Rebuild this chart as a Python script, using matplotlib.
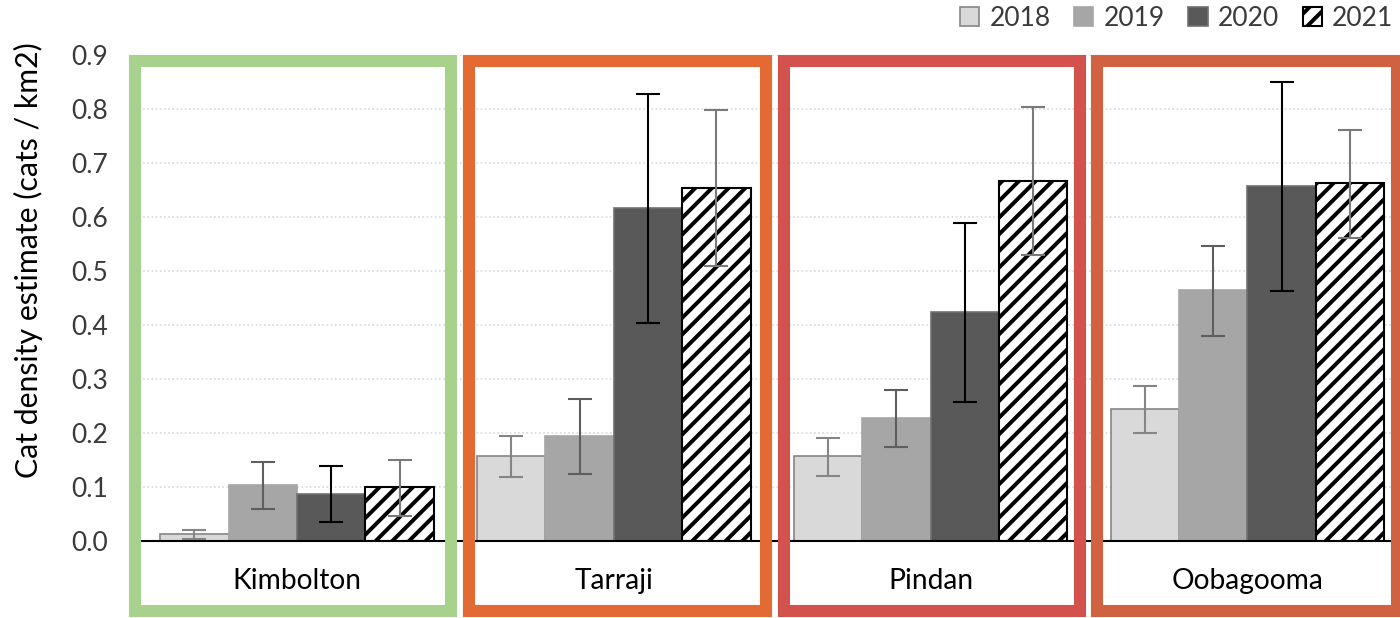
import matplotlib
matplotlib.use("Agg")
import matplotlib.pyplot as plt
import matplotlib.transforms as mtransforms
from matplotlib.patches import Rectangle
import numpy as np

# ---- data -------------------------------------------------------------
sites = ["Kimbolton", "Tarraji", "Pindan", "Oobagooma"]
years = ["2018", "2019", "2020", "2021"]

# density estimates (cats / km2), one list per year, ordered as sites
density = {
    "2018": [0.012, 0.157, 0.156, 0.244],
    "2019": [0.103, 0.194, 0.227, 0.464],
    "2020": [0.087, 0.617, 0.424, 0.656],
    "2021": [0.099, 0.654, 0.667, 0.662],
}
# confidence interval bounds
lower = {
    "2018": [0.003, 0.118, 0.120, 0.200],
    "2019": [0.059, 0.123, 0.174, 0.380],
    "2020": [0.035, 0.404, 0.257, 0.463],
    "2021": [0.046, 0.508, 0.530, 0.561],
}
upper = {
    "2018": [0.020, 0.194, 0.190, 0.287],
    "2019": [0.145, 0.262, 0.279, 0.546],
    "2020": [0.138, 0.828, 0.589, 0.849],
    "2021": [0.150, 0.798, 0.804, 0.761],
}

y_ticks = [0.0, 0.1, 0.2, 0.3, 0.4, 0.5, 0.6, 0.7, 0.8, 0.9]
y_label = "Cat density estimate (cats / km2)"

# ---- styling ----------------------------------------------------------
plt.rcParams["font.family"] = ["Lato", "DejaVu Sans"]
plt.rcParams["hatch.linewidth"] = 1.9
plt.rcParams["hatch.color"] = "black"

fill = {"2018": "#D9D9D9", "2019": "#A6A6A6", "2020": "#595959", "2021": "white"}
edge = {"2018": "#858585", "2019": "#A6A6A6", "2020": "#707070", "2021": "black"}
hatch = {"2018": None, "2019": None, "2020": None, "2021": "///"}
err_col = {"2018": "#858585", "2019": "#5E5E5E", "2020": "black", "2021": "#7A7A7A"}

# site frames: colour and horizontal span in category units
frame_col = ["#A9D18E", "#E46A33", "#D4524D", "#D06141"]
frame_span = [(-0.512, 0.486), (0.544, 1.482), (1.536, 2.472), (2.526, 3.471)]

W, H, DPI = 1400, 618, 150
fig = plt.figure(figsize=(W / DPI, H / DPI), dpi=DPI)
ax = fig.add_axes([138.6 / W, 77.3 / H, 1267.2 / W, 486 / H])

x = np.arange(len(sites))
bw = 0.216
handles = []
for k, yr in enumerate(years):
    pos = x + (k - 1.5) * bw
    vals = np.array(density[yr])
    lo = vals - np.array(lower[yr])
    hi = np.array(upper[yr]) - vals
    b = ax.bar(pos, vals, width=bw, color=fill[yr], edgecolor=edge[yr],
               linewidth=0.8 if yr != "2021" else 1.0, hatch=hatch[yr],
               zorder=2, label=yr)
    handles.append(b)
    ax.errorbar(pos, vals, yerr=[lo, hi], fmt="none", ecolor=err_col[yr],
                elinewidth=1.0, capsize=5.8, capthick=1.0, zorder=3)

ax.set_xlim(-0.5, 3.5)
ax.set_ylim(0, 0.9)
ax.set_yticks(y_ticks)
ax.set_yticklabels([f"{t:.1f}" for t in y_ticks])
ax.set_xticks(x)
ax.set_xticklabels(sites)
ax.tick_params(axis="y", length=0, pad=14.7, labelsize=12.7, labelcolor="#3A3A3A")
ax.tick_params(axis="x", length=0, pad=13, labelsize=13.5, labelcolor="black")
for s in ("left", "right", "top"):
    ax.spines[s].set_visible(False)
ax.spines["bottom"].set_color("black")
ax.spines["bottom"].set_linewidth(1.0)
ax.spines["bottom"].set_zorder(4)
ax.yaxis.grid(True, color="#D9D9D9", linestyle=(0, (1, 1.5)), linewidth=0.8)
ax.set_axisbelow(True)

ax.set_ylabel(y_label, fontsize=14.5, color="black")
ax.yaxis.set_label_coords(-0.0755, 0.578)

# coloured frames around each site
trans = mtransforms.blended_transform_factory(ax.transData, ax.transAxes)
for col, (x0, x1) in zip(frame_col, frame_span):
    ax.add_patch(Rectangle((x0, -0.1447), x1 - x0, 0.9864 + 0.1447,
                           transform=trans, fill=False, edgecolor=col,
                           linewidth=5.8, clip_on=False, zorder=6))

fig.legend(handles=handles, labels=years, loc="upper right",
           bbox_to_anchor=(1393 / W, 1 - 6 / H), ncol=4, frameon=False,
           fontsize=12.7, handlelength=0.72, handleheight=0.72,
           handletextpad=0.38, columnspacing=0.9, borderpad=0,
           borderaxespad=0, labelcolor="#3A3A3A")

fig.savefig("out.png", dpi=DPI)
